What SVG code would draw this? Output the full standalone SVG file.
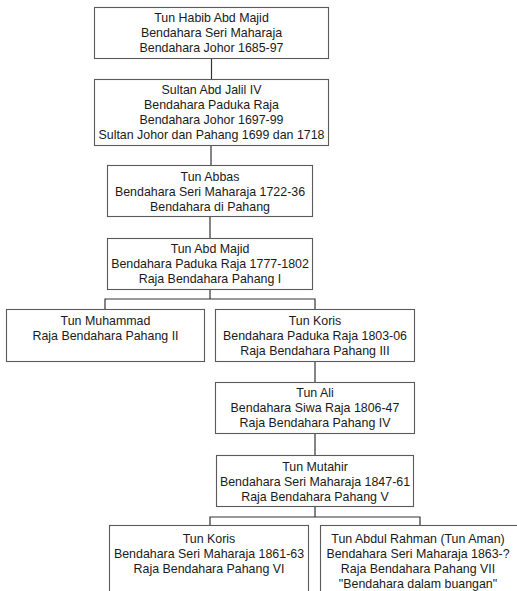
<svg xmlns="http://www.w3.org/2000/svg" width="517" height="591" viewBox="0 0 517 591">
<style>
.box{fill:#fff;stroke:#5a5a5a;stroke-width:1.1}
.t{font-family:"Liberation Sans",Arial,sans-serif;font-size:12.4px;fill:#1a1a1a;text-anchor:middle}
.c{fill:none;stroke:#333;stroke-width:1.2}
</style>
<rect width="517" height="591" fill="#fff"/>
<g id="connectors">
<path class="c" d="M211.5 58V79"/>
<path class="c" d="M211 145V165"/>
<path class="c" d="M210 217V238"/>
<path class="c" d="M210 289V299M105 309V299H315V309"/>
<path class="c" d="M315 362V382"/>
<path class="c" d="M315 434V455"/>
<path class="c" d="M315 507V517M210 525V517H420V525"/>
</g>
<g id="n1">
<rect class="box" x="94.5" y="7.5" width="234" height="51"/>
<text class="t" x="211.5" y="22">Tun Habib Abd Majid</text>
<text class="t" x="211.5" y="37">Bendahara Seri Maharaja</text>
<text class="t" x="211.5" y="52">Bendahara Johor 1685-97</text>
</g>
<g id="n2">
<rect class="box" x="94.5" y="79.5" width="234" height="66"/>
<text class="t" x="211.5" y="94">Sultan Abd Jalil IV</text>
<text class="t" x="211.5" y="109">Bendahara Paduka Raja</text>
<text class="t" x="211.5" y="124">Bendahara Johor 1697-99</text>
<text class="t" x="211.5" y="139">Sultan Johor dan Pahang 1699 dan 1718</text>
</g>
<g id="n3">
<rect class="box" x="107.5" y="165.5" width="205" height="51"/>
<text class="t" x="210" y="181">Tun Abbas</text>
<text class="t" x="210" y="196">Bendahara Seri Maharaja 1722-36</text>
<text class="t" x="210" y="211">Bendahara di Pahang</text>
</g>
<g id="n4">
<rect class="box" x="107.5" y="238.5" width="205" height="51"/>
<text class="t" x="210" y="253">Tun Abd Majid</text>
<text class="t" x="210" y="268">Bendahara Paduka Raja 1777-1802</text>
<text class="t" x="210" y="283">Raja Bendahara Pahang I</text>
</g>
<g id="n5">
<rect class="box" x="6.5" y="309.5" width="198" height="52"/>
<text class="t" x="105.5" y="325">Tun Muhammad</text>
<text class="t" x="105.5" y="340">Raja Bendahara Pahang II</text>
</g>
<g id="n6">
<rect class="box" x="215.5" y="309.5" width="199" height="52"/>
<text class="t" x="315" y="325">Tun Koris</text>
<text class="t" x="315" y="340">Bendahara Paduka Raja 1803-06</text>
<text class="t" x="315" y="355">Raja Bendahara Pahang III</text>
</g>
<g id="n7">
<rect class="box" x="215.5" y="382.5" width="199" height="51"/>
<text class="t" x="315" y="397">Tun Ali</text>
<text class="t" x="315" y="412">Bendahara Siwa Raja 1806-47</text>
<text class="t" x="315" y="427">Raja Bendahara Pahang IV</text>
</g>
<g id="n8">
<rect class="box" x="216.5" y="455.5" width="197" height="51"/>
<text class="t" x="315" y="470.5">Tun Mutahir</text>
<text class="t" x="315" y="485.5">Bendahara Seri Maharaja 1847-61</text>
<text class="t" x="315" y="500.5">Raja Bendahara Pahang V</text>
</g>
<g id="n9">
<rect class="box" x="109.5" y="525.5" width="199" height="70"/>
<text class="t" x="209" y="542.5">Tun Koris</text>
<text class="t" x="209" y="557.5">Bendahara Seri Maharaja 1861-63</text>
<text class="t" x="209" y="572.5">Raja Bendahara Pahang VI</text>
</g>
<g id="n10">
<rect class="box" x="320.5" y="525.5" width="200" height="70"/>
<text class="t" x="418" y="542.5">Tun Abdul Rahman (Tun Aman)</text>
<text class="t" x="418" y="557.5">Bendahara Seri Maharaja 1863-?</text>
<text class="t" x="418" y="572.5">Raja Bendahara Pahang VII</text>
<text class="t" x="418" y="587.5">"Bendahara dalam buangan"</text>
</g>
</svg>
